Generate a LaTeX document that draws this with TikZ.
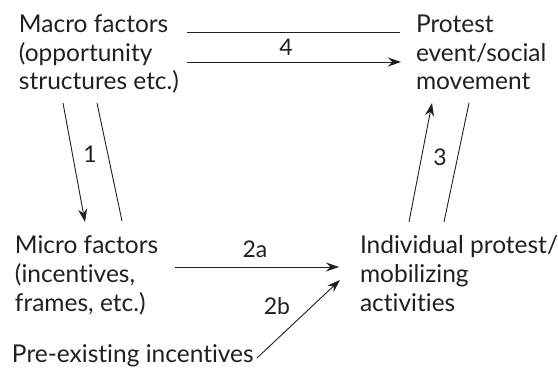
\documentclass[tikz,border=0pt]{standalone}
\usepackage{fontspec}
\setmainfont{Lato}[Ligatures={NoCommon}]
\usetikzlibrary{arrows.meta}
\definecolor{ink}{HTML}{231F20}
\tikzset{
  txt/.style={inner sep=0pt, outer sep=0pt, align=left, text=ink,
    font=\fontsize{24.5}{28.7}\selectfont},
  lbl/.style={inner sep=0pt, text=ink, font=\fontsize{23}{26}\selectfont},
  conn/.style={draw=ink, line width=0.9pt},
  arr/.style={conn, -{Stealth[length=13pt,width=9pt]}}
}
\begin{document}
\begin{tikzpicture}[x=1pt,y=-1pt]
\useasboundingbox (0,0) rectangle (558,369);
% text nodes (base anchor = baseline of last line)
\node[txt, anchor=base west] (macro) at (19,90) {Macro factors\\(opportunity\\structures etc.)};
\node[txt, anchor=base west] (protest) at (416,90) {Protest\\event/social\\movement};
\node[txt, anchor=base west] (micro) at (15,311) {Micro factors\\(incentives,\\frames, etc.)};
\node[txt, anchor=base west] (indiv) at (360,311) {Individual protest/\\mobilizing\\activities};
\node[txt, anchor=base west] (pre) at (12,362) {Pre-existing incentives};
% connector end points
\coordinate (c4a) at (187,32);  \coordinate (d4a) at (400,32);
\coordinate (c4b) at (187,62);  \coordinate (d4b) at (401,62);
\coordinate (c1a) at (63,103);  \coordinate (d1a) at (85,222);
\coordinate (c1b) at (97,103);  \coordinate (d1b) at (122,221);
\coordinate (c3a) at (409,222); \coordinate (d3a) at (432,103);
\coordinate (c3b) at (444,222); \coordinate (d3b) at (469,103);
\coordinate (c2a) at (175,267); \coordinate (d2a) at (339,267);
\coordinate (c2b) at (257,358); \coordinate (d2b) at (340,280);
% connectors
\draw[conn] (c4a) -- (d4a);
\draw[arr] (c4b) -- (d4b);
\draw[arr] (c1a) -- (d1a);
\draw[conn] (c1b) -- (d1b);
\draw[arr] (c3a) -- (d3a);
\draw[conn] (c3b) -- (d3b);
\draw[arr] (c2a) -- (d2a);
\draw[arr] (c2b) -- (d2b);
% labels
\node[lbl, anchor=base] (l4) at (286,56) {4};
\node[lbl, anchor=base] (l1) at (90,163) {1};
\node[lbl, anchor=base] (l3) at (440,165) {3};
\node[lbl, anchor=base] (l2a) at (255,258) {2a};
\node[lbl, anchor=base] (l2b) at (277,314) {2b};
\end{tikzpicture}
\end{document}
